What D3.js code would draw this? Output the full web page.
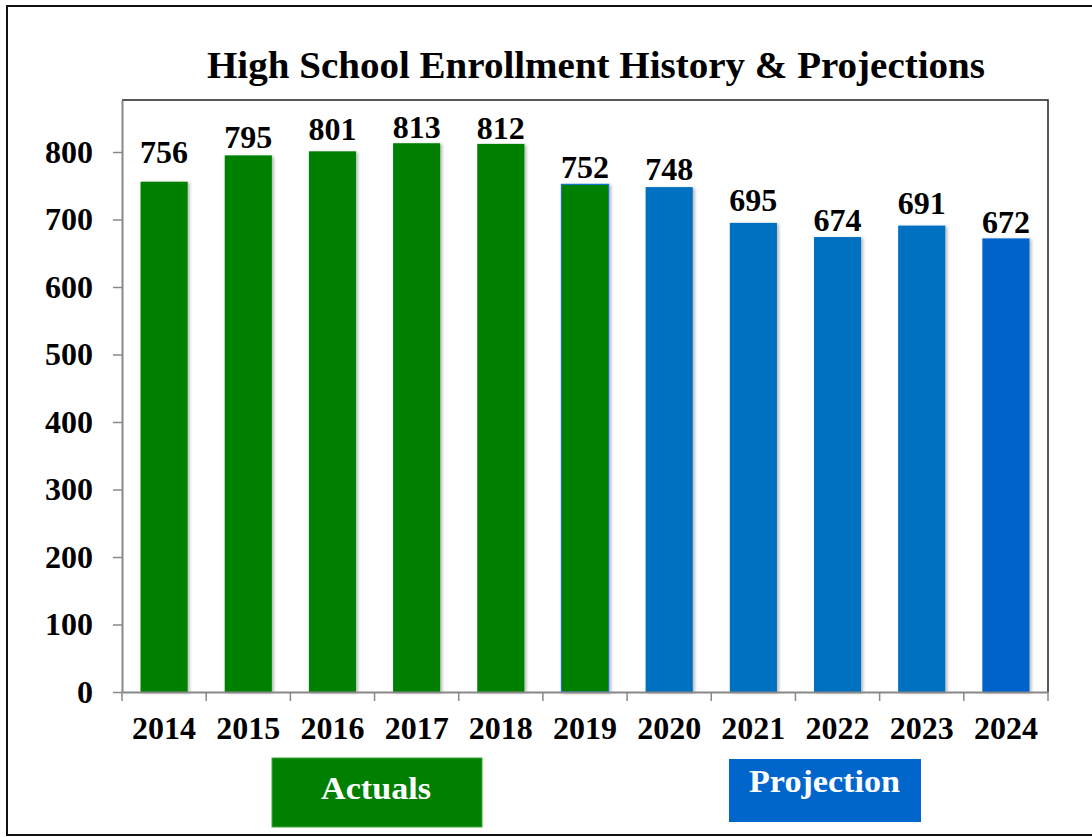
<!DOCTYPE html>
<html>
<head>
<meta charset="utf-8">
<script src="https://cdn.jsdelivr.net/npm/d3@7"></script>
<style>
  html, body { margin: 0; padding: 0; background: #fff; }
  svg { display: block; }
  text { font-family: "Liberation Serif", "Times New Roman", serif; font-weight: bold; }
</style>
</head>
<body>
<svg id="chart" width="1092" height="837"></svg>
<script>
// ---- data ----
const years = ["2014","2015","2016","2017","2018","2019","2020","2021","2022","2023","2024"];
const enrollment = [756, 795, 801, 813, 812, 752, 748, 695, 674, 691, 672];
const kind = ["Actual","Actual","Actual","Actual","Actual","Actual","Projection","Projection","Projection","Projection","Projection"];
const yTicks = [0, 100, 200, 300, 400, 500, 600, 700, 800];
const title = "High School Enrollment History & Projections";
const legendLabels = ["Actuals", "Projection"];

// ---- layout ----
const W = 1092, H = 837;
const plot = { left: 122, right: 1048, top: 100, bottom: 692 };
const svg = d3.select("#chart");

const defs = svg.append("defs");
const f = defs.append("filter").attr("id", "shadow").attr("x", "-20%").attr("y", "-5%").attr("width", "140%").attr("height", "110%");
f.append("feDropShadow").attr("dx", 2).attr("dy", 1).attr("stdDeviation", 1.8)
  .attr("flood-color", "#000").attr("flood-opacity", 0.28);

// outer frame (right edge cut off)
svg.append("path")
  .attr("d", `M ${W + 5} 6 H 7 V 835 H ${W + 5}`)
  .attr("fill", "none").attr("stroke", "#111").attr("stroke-width", 2);

const x = d3.scaleBand().domain(years).range([plot.left, plot.right]).paddingInner(0.44).paddingOuter(0.22);
const y = d3.scaleLinear().domain([0, (plot.bottom - plot.top) / 0.675]).range([plot.bottom, plot.top]);

// plot frame top/right
svg.append("path")
  .attr("d", `M ${plot.left} ${plot.top} H ${plot.right} V ${plot.bottom}`)
  .attr("fill", "none").attr("stroke", "#222").attr("stroke-width", 1.5);

// title
svg.append("text")
  .attr("x", 596).attr("y", 78)
  .attr("text-anchor", "middle")
  .attr("font-size", 37)
  .attr("textLength", 778).attr("lengthAdjust", "spacingAndGlyphs")
  .attr("fill", "#000")
  .text(title);

// bars
const colorFor = (d, i) => {
  if (kind[i] === "Actual") return "#008000";
  return years[i] === "2024" ? "#0563CC" : "#0070C0";
};
const strokeFor = (d, i) => years[i] === "2019" ? "#1a6fd0" : "none";

svg.append("g").selectAll("rect")
  .data(enrollment)
  .join("rect")
  .attr("x", (d, i) => x(years[i]))
  .attr("width", x.bandwidth())
  .attr("y", d => y(d))
  .attr("height", d => y(0) - y(d))
  .attr("fill", colorFor)
  .attr("stroke", strokeFor)
  .attr("stroke-width", 1.2)
  .attr("filter", "url(#shadow)");

// value labels
const labelGap = [19, 7, 11, 5, 5, 6, 7, 12, 6, 12, 5];
svg.append("g").selectAll("text")
  .data(enrollment)
  .join("text")
  .attr("x", (d, i) => x(years[i]) + x.bandwidth() / 2)
  .attr("y", (d, i) => y(d) - labelGap[i])
  .attr("text-anchor", "middle")
  .attr("font-size", 32)
  .attr("fill", "#000")
  .text(d => d);

// y axis
const yAxis = svg.append("g")
  .attr("transform", `translate(${plot.left},0)`)
  .call(d3.axisLeft(y).tickValues(yTicks).tickSize(9).tickPadding(20).tickSizeOuter(0));
yAxis.select(".domain").attr("stroke", "#888").attr("stroke-width", 2);
yAxis.selectAll(".tick line").attr("stroke", "#888").attr("stroke-width", 1.5);
yAxis.selectAll(".tick text").attr("font-size", 32).attr("font-family", "Liberation Serif").attr("font-weight", "bold").attr("fill", "#000");

// x axis
const xAxis = svg.append("g")
  .attr("transform", `translate(0,${plot.bottom})`)
  .call(d3.axisBottom(x).tickSize(0).tickPadding(24).tickSizeOuter(0));
xAxis.select(".domain").attr("stroke", "#888").attr("stroke-width", 2);
xAxis.selectAll(".tick text").attr("font-size", 32).attr("font-family", "Liberation Serif").attr("font-weight", "bold").attr("fill", "#000");
// category boundary ticks
const bounds = years.map(yr => x(yr) - x.step() * x.paddingInner() / 2);
bounds[0] = plot.left;
bounds.push(plot.right);
xAxis.append("g").selectAll("line")
  .data(bounds)
  .join("line")
  .attr("x1", d => d).attr("x2", d => d)
  .attr("y1", 0).attr("y2", 9)
  .attr("stroke", "#888").attr("stroke-width", 1.5);

// legend boxes
const legend = [
  { label: legendLabels[0], x0: 272, x1: 482, y0: 758, y1: 827, fill: "#008000", stroke: "#3aa83a", ty: 799, tx0: 321, tx1: 431 },
  { label: legendLabels[1], x0: 729, x1: 921, y0: 759, y1: 822, fill: "#0066CC", stroke: "none", ty: 792, tx0: 749, tx1: 900 }
];
const lg = svg.append("g").selectAll("g").data(legend).join("g");
lg.append("rect")
  .attr("x", d => d.x0).attr("y", d => d.y0)
  .attr("width", d => d.x1 - d.x0).attr("height", d => d.y1 - d.y0)
  .attr("fill", d => d.fill).attr("stroke", d => d.stroke).attr("stroke-width", 1);
lg.append("text")
  .attr("x", d => (d.tx0 + d.tx1) / 2).attr("y", d => d.ty)
  .attr("text-anchor", "middle")
  .attr("font-size", 32)
  .attr("textLength", d => d.tx1 - d.tx0).attr("lengthAdjust", "spacingAndGlyphs")
  .attr("fill", "#fff")
  .text(d => d.label);
</script>
</body>
</html>
